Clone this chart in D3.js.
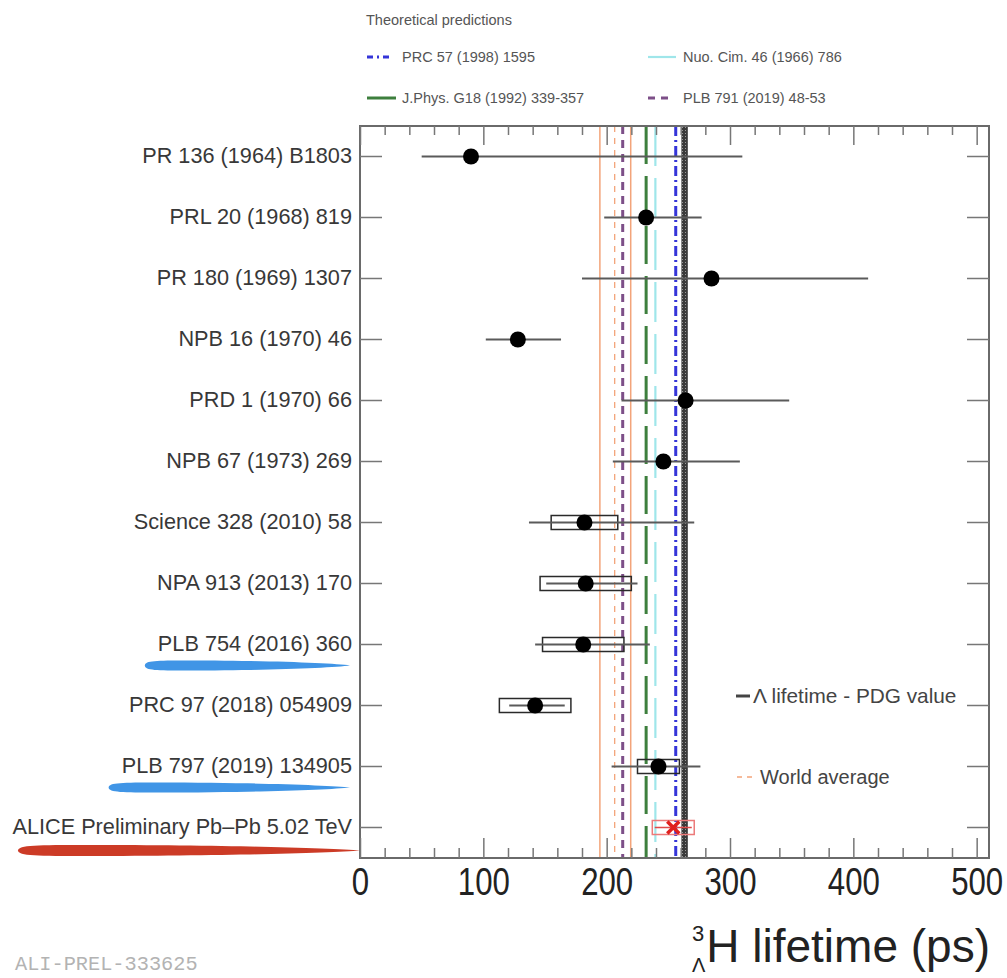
<!DOCTYPE html>
<html>
<head>
<meta charset="utf-8">
<script src="https://cdn.jsdelivr.net/npm/d3@7"></script>
<style>
  body { margin: 0; background: #fff; }
  svg { display: block; }
  text { font-family: "Liberation Sans", Arial, Helvetica, sans-serif; }
  text.mono { font-family: "Liberation Mono", "DejaVu Sans Mono", monospace; }
</style>
</head>
<body>
<svg id="chart" width="1007" height="978"></svg>
<script>
// Hypertriton lifetime measurements (ps), top to bottom
const measurements = [
  "PR 136 (1964) B1803",
  "PRL 20 (1968) 819",
  "PR 180 (1969) 1307",
  "NPB 16 (1970) 46",
  "PRD 1 (1970) 66",
  "NPB 67 (1973) 269",
  "Science 328 (2010) 58",
  "NPA 913 (2013) 170",
  "PLB 754 (2016) 360",
  "PRC 97 (2018) 054909",
  "PLB 797 (2019) 134905",
  "ALICE Preliminary Pb\u2013Pb 5.02 TeV"
];
const lifetime = [90, 232, 285, 128, 264, 246, 182, 183, 181, 142, 242, 254];
const statUp   = [220, 45, 127, 35, 84, 62, 89, 42, 54, 24, 34, 15];
const statDown = [40, 34, 105, 26, 52, 41, 45, 32, 39, 21, 38, 15];
const systErr  = [null, null, null, null, null, null, 27, 37, 33, 29, 17, 17];

// Theoretical predictions (ps)
const predictionNames  = ["PRC 57 (1998) 1595", "Nuo. Cim. 46 (1966) 786", "J.Phys. G18 (1992) 339-357", "PLB 791 (2019) 48-53"];
const predictionValues = [256, 239.5, 232, 213];

// Reference values (ps)
const pdgLambda = 263.2;
const pdgLambdaErr = 2.0;
const worldAverage = 206.5;
const worldAverageUp = 13;
const worldAverageDown = 12;

const xTickValues = [0, 100, 200, 300, 400, 500];
const xMinorValues = d3.range(0, 511, 20).filter(v => v % 100 !== 0);

// Highlighted publications
const highlighted = ["PLB 754 (2016) 360", "PLB 797 (2019) 134905", "ALICE Preliminary Pb\u2013Pb 5.02 TeV"];

const svg = d3.select("#chart");
const frame = { left: 360, right: 989, top: 126, bottom: 858 };

const x = d3.scaleLinear().domain([0, 510]).range([frame.left, frame.right]);
const y = d3.scaleBand().domain(measurements).range([frame.top, frame.bottom]);
const yc = d => y(d) + y.bandwidth() / 2;

const defs = svg.append("defs");
const pat = defs.append("pattern").attr("id", "pdgFill")
  .attr("width", 3).attr("height", 3).attr("patternUnits", "userSpaceOnUse");
pat.append("rect").attr("width", 3).attr("height", 3).attr("fill", "#3a3a3a");
pat.append("rect").attr("x", 1).attr("y", 1).attr("width", 1).attr("height", 1).attr("fill", "#9a9a9a");
defs.append("filter").attr("id", "soft").append("feGaussianBlur").attr("stdDeviation", 0.7);

// ---- Theory legend ----
const legend = svg.append("g");
legend.append("text").attr("x", 366).attr("y", 25).attr("font-size", 14.5)
  .attr("fill", "#555").text("Theoretical predictions");

const predictionStyle = [
  { color: "#3535d8", width: 3,   dash: "10,4,2,4", sample: "6,4,2,4", solidSample: false },
  { color: "#9fe6ea", width: 2.2, dash: "40,12",    sample: null,      solidSample: true },
  { color: "#3d7f3d", width: 3,   dash: "38,12",    sample: null,      solidSample: true },
  { color: "#7d4f88", width: 3,   dash: "8,6",      sample: "7,6",     solidSample: false }
];
const legendPos = [
  { x: 367, y: 57, w: 26 },
  { x: 648, y: 57, w: 28 },
  { x: 367, y: 98, w: 29 },
  { x: 648, y: 98, w: 21 }
];
predictionNames.forEach((name, i) => {
  const p = legendPos[i], s = predictionStyle[i];
  legend.append("line").attr("x1", p.x).attr("x2", p.x + p.w).attr("y1", p.y).attr("y2", p.y)
    .attr("stroke", s.color).attr("stroke-width", s.width)
    .attr("stroke-dasharray", s.solidSample ? null : s.sample);
  legend.append("text").attr("x", p.x + 35).attr("y", p.y + 5).attr("font-size", 14.5)
    .attr("fill", "#555").text(name);
});

// ---- Row highlight strokes (drawn under labels) ----
const brushLayer = svg.append("g").attr("filter", "url(#soft)");

// ---- Vertical reference lines ----
const vlines = svg.append("g");
[worldAverage - worldAverageDown, worldAverage + worldAverageUp].forEach(v => {
  vlines.append("line").attr("x1", x(v)).attr("x2", x(v))
    .attr("y1", frame.top).attr("y2", frame.bottom)
    .attr("stroke", "#f3a47a").attr("stroke-width", 1.5);
});
vlines.append("line").attr("x1", x(worldAverage)).attr("x2", x(worldAverage))
  .attr("y1", frame.top).attr("y2", frame.bottom)
  .attr("stroke", "#f3a47a").attr("stroke-width", 1.3).attr("stroke-dasharray", "6,6");

predictionValues.forEach((v, i) => {
  const s = predictionStyle[i];
  vlines.append("line").attr("x1", x(v)).attr("x2", x(v))
    .attr("y1", frame.top).attr("y2", frame.bottom)
    .attr("stroke", s.color).attr("stroke-width", s.width)
    .attr("stroke-dasharray", s.dash);
});

vlines.append("rect")
  .attr("x", x(pdgLambda - pdgLambdaErr - 0.6)).attr("y", frame.top)
  .attr("width", x(pdgLambda + pdgLambdaErr + 0.6) - x(pdgLambda - pdgLambdaErr - 0.6))
  .attr("height", frame.bottom - frame.top)
  .attr("fill", "url(#pdgFill)");

// ---- Frame and axes ----
svg.append("rect").attr("x", frame.left).attr("y", frame.top)
  .attr("width", frame.right - frame.left).attr("height", frame.bottom - frame.top)
  .attr("fill", "none").attr("stroke", "#6a6a6a").attr("stroke-width", 2);

function styleAxis(g) {
  g.select(".domain").remove();
  g.selectAll(".tick line").attr("stroke", "#777").attr("stroke-width", 1.5);
}

const xMajor = svg.append("g").attr("transform", `translate(0,${frame.bottom})`)
  .call(d3.axisBottom(x).tickValues(xTickValues).tickSizeInner(-20).tickSizeOuter(0).tickPadding(9)
    .tickFormat(d3.format("d")))
  .call(styleAxis);
xMajor.selectAll(".tick text")
  .attr("font-size", 39).attr("fill", "#222")
  .attr("transform", "scale(0.8,1)");

svg.append("g").attr("transform", `translate(0,${frame.bottom})`)
  .call(d3.axisBottom(x).tickValues(xMinorValues).tickSizeInner(-10).tickSizeOuter(0).tickFormat(""))
  .call(styleAxis);
svg.append("g").attr("transform", `translate(0,${frame.top})`)
  .call(d3.axisTop(x).tickValues(xTickValues).tickSizeInner(-19).tickSizeOuter(0).tickFormat(""))
  .call(styleAxis);
svg.append("g").attr("transform", `translate(0,${frame.top})`)
  .call(d3.axisTop(x).tickValues(xMinorValues).tickSizeInner(-9).tickSizeOuter(0).tickFormat(""))
  .call(styleAxis);

const yLeft = svg.append("g").attr("transform", `translate(${frame.left},0)`)
  .call(d3.axisLeft(y).tickSizeInner(-22).tickSizeOuter(0).tickPadding(8))
  .call(styleAxis);
yLeft.selectAll(".tick text").attr("font-size", 21.7).attr("fill", "#383838");
svg.append("g").attr("transform", `translate(${frame.right},0)`)
  .call(d3.axisRight(y).tickSizeInner(-22).tickSizeOuter(0).tickFormat(""))
  .call(styleAxis);

// Brush strokes under the highlighted labels
function brushStroke(x0, x1, cy, h, color) {
  const w = x1 - x0;
  const p = d3.path();
  p.moveTo(x0, cy);
  p.bezierCurveTo(x0, cy - h, x0 + w * 0.06, cy - h, x0 + w * 0.2, cy - h);
  p.bezierCurveTo(x0 + w * 0.6, cy - h, x1 - w * 0.08, cy - h * 0.45, x1, cy);
  p.bezierCurveTo(x1 - w * 0.08, cy + h * 0.45, x0 + w * 0.6, cy + h, x0 + w * 0.2, cy + h);
  p.bezierCurveTo(x0 + w * 0.06, cy + h, x0, cy + h, x0, cy);
  p.closePath();
  brushLayer.append("path").attr("d", p.toString()).attr("fill", color);
}
yLeft.selectAll(".tick").each(function(d) {
  if (!highlighted.includes(d)) return;
  const box = d3.select(this).select("text").node().getBBox();
  const isAlice = d.startsWith("ALICE");
  const cy = yc(d) + (isAlice ? 23 : 21);
  const x0 = isAlice ? 18 : frame.left + box.x - 13;
  const x1 = isAlice ? frame.left : frame.left - 10;
  brushStroke(x0, x1, cy, isAlice ? 5.5 : 5, isAlice ? "#cc3a26" : "#3f95e6");
});

// ---- Measurements ----
const data = measurements.map((name, i) => ({
  name, tau: lifetime[i], up: statUp[i], down: statDown[i], syst: systErr[i],
  alice: name.startsWith("ALICE")
}));

const marks = svg.append("g");
const boxH = 14;
data.filter(d => d.syst !== null).forEach(d => {
  marks.append("rect")
    .attr("x", x(d.tau - d.syst)).attr("y", yc(d.name) - boxH / 2)
    .attr("width", x(d.tau + d.syst) - x(d.tau - d.syst)).attr("height", boxH)
    .attr("fill", "none")
    .attr("stroke", d.alice ? "#ec7a7a" : "#2a2a2a").attr("stroke-width", 1.5);
});
data.forEach(d => {
  marks.append("line")
    .attr("x1", x(d.tau - d.down)).attr("x2", x(d.tau + d.up))
    .attr("y1", yc(d.name)).attr("y2", yc(d.name))
    .attr("stroke", d.alice ? "#e04a4a" : "#5a5a5a").attr("stroke-width", d.alice ? 1.5 : 2);
});
data.filter(d => !d.alice).forEach(d => {
  marks.append("circle").attr("cx", x(d.tau)).attr("cy", yc(d.name)).attr("r", 8).attr("fill", "#000");
});
data.filter(d => d.alice).forEach(d => {
  const cx = x(d.tau), cy = yc(d.name), s = 6;
  marks.append("path")
    .attr("d", `M${cx - s},${cy - s}L${cx + s},${cy + s}M${cx - s},${cy + s}L${cx + s},${cy - s}`)
    .attr("stroke", "#e0201e").attr("stroke-width", 3.5);
});

// ---- Right-hand legend ----
const rl = svg.append("g");
rl.append("line").attr("x1", 736).attr("x2", 750).attr("y1", 696).attr("y2", 696)
  .attr("stroke", "#444").attr("stroke-width", 3);
rl.append("text").attr("x", 753).attr("y", 703).attr("font-size", 20.8).attr("fill", "#444")
  .text("\u039B lifetime - PDG value");
rl.append("line").attr("x1", 737).attr("x2", 753).attr("y1", 777).attr("y2", 777)
  .attr("stroke", "#f3a47a").attr("stroke-width", 1.5).attr("stroke-dasharray", "5,5");
rl.append("text").attr("x", 760).attr("y", 784).attr("font-size", 20).attr("fill", "#444")
  .text("World average");

// ---- Axis title ----
const title = svg.append("text").attr("x", 990).attr("y", 962).attr("text-anchor", "end")
  .attr("font-size", 46).attr("fill", "#222").text("H lifetime (ps)");
const tb = title.node().getBBox();
svg.append("text").attr("x", tb.x - 2).attr("y", 941).attr("text-anchor", "end")
  .attr("font-size", 22).attr("fill", "#222").text("3");
svg.append("text").attr("x", tb.x - 1).attr("y", 972).attr("text-anchor", "end")
  .attr("font-size", 20).attr("fill", "#222").text("\u039B");

// ---- Figure identifier ----
svg.append("text").attr("class", "mono").attr("x", 15).attr("y", 970)
  .attr("font-size", 20.3).attr("fill", "#b3b3b3").text("ALI-PREL-333625");
</script>
</body>
</html>
